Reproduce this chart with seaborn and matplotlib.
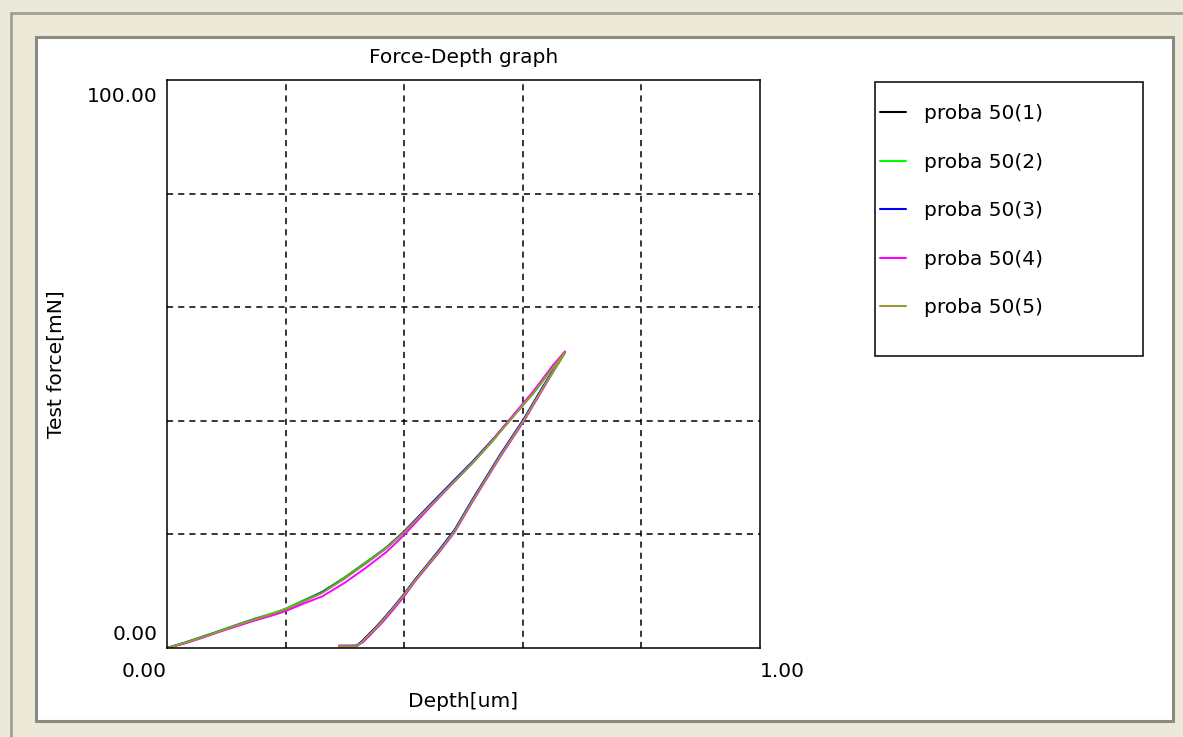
import numpy as np
import pandas as pd
import matplotlib
matplotlib.use('Agg')
import matplotlib.pyplot as plt
from matplotlib.patches import Rectangle
from matplotlib.lines import Line2D
import matplotlib.transforms as mtransforms
import seaborn as sns

##################################################################
sns.set_style('white')
plt.rcParams['font.family'] = ['DejaVu Sans']
plt.rcParams['text.color'] = 'black'
plt.rcParams['axes.labelcolor'] = 'black'
plt.rcParams['xtick.color'] = 'black'
plt.rcParams['ytick.color'] = 'black'
##################################################################
series_names = ['proba 50(1)', 'proba 50(2)', 'proba 50(3)', 'proba 50(4)', 'proba 50(5)']
series_colors = ['#000000', '#00ff00', '#0000ff', '#ff00ff', '#999933']

# loading branch (depth um -> force mN)
depth_load = [0.0, 0.03, 0.06, 0.09, 0.12, 0.15, 0.18, 0.20, 0.23, 0.262, 0.30,
              0.335, 0.37, 0.40, 0.448, 0.48, 0.516, 0.55, 0.575, 0.617, 0.651, 0.671]
load_1 = [0, 0.9, 2.0, 3.0, 4.1, 5.2, 6.1, 6.9, 8.3, 9.9, 12.4, 15.0, 17.7, 20.5, 25.6, 29.0, 32.8, 36.7, 39.8, 44.9, 49.5, 52.0]
load_2 = [0, 1.0, 2.0, 3.1, 4.2, 5.2, 6.2, 6.9, 8.4, 9.9, 12.5, 15.1, 17.7, 20.5, 25.4, 28.8, 32.6, 36.5, 39.9, 44.7, 49.3, 51.9]
load_3 = [0, 0.9, 1.9, 3.0, 4.1, 5.1, 6.0, 6.7, 8.2, 9.8, 12.3, 14.9, 17.6, 20.5, 25.7, 29.1, 32.9, 36.8, 39.7, 44.9, 49.6, 52.1]
load_4 = [0, 0.8, 1.8, 2.9, 3.9, 4.9, 5.8, 6.5, 7.8, 9.1, 11.5, 14.1, 16.9, 19.9, 25.3, 28.8, 32.7, 36.7, 39.9, 45.1, 49.8, 52.2]
load_5 = [0, 0.9, 1.9, 3.0, 4.1, 5.1, 6.1, 6.8, 8.2, 9.7, 12.3, 14.9, 17.6, 20.4, 25.5, 28.9, 32.7, 36.6, 39.7, 44.8, 49.4, 52.0]

# unloading branch
depth_unload = [0.671, 0.635, 0.601, 0.561, 0.516, 0.485, 0.46, 0.437, 0.418, 0.40,
                0.382, 0.364, 0.35, 0.341, 0.33, 0.32, 0.29]
unload_1 = [52.0, 46.1, 40.1, 33.8, 26.2, 20.7, 17.3, 14.4, 12.0, 9.5, 7.2, 5.0, 3.4, 2.5, 1.3, 0.4, 0.3]
unload_2 = [51.9, 45.9, 40.0, 33.6, 26.0, 20.5, 17.1, 14.2, 11.8, 9.3, 7.0, 4.8, 3.2, 2.3, 1.1, 0.3, 0.3]
unload_3 = [52.1, 46.2, 40.2, 33.9, 26.3, 20.8, 17.4, 14.4, 12.0, 9.5, 7.2, 5.0, 3.4, 2.5, 1.3, 0.4, 0.4]
unload_4 = [52.2, 45.8, 39.8, 33.5, 25.9, 20.4, 17.0, 14.1, 11.7, 9.1, 6.8, 4.6, 3.1, 2.1, 1.0, 0.4, 0.4]
unload_5 = [52.0, 46.0, 40.0, 33.7, 26.1, 20.6, 17.2, 14.3, 11.9, 9.4, 7.1, 4.9, 3.3, 2.4, 1.2, 0.3, 0.3]

x_ticks = [0, 1]
x_ticklabels = ['0.00', '1.00']
y_ticks = [0, 100]
y_ticklabels = ['0.00', '100.00']
x_grid = [0.2, 0.4, 0.6, 0.8]
y_grid = [20, 40, 60, 80]
##################################################################
loads = [load_1, load_2, load_3, load_4, load_5]
unloads = [unload_1, unload_2, unload_3, unload_4, unload_5]
rows = []
for name, fl, fu in zip(series_names, loads, unloads):
    d = depth_load + depth_unload
    f = fl + fu
    for i in range(len(d)):
        rows.append({'Sample': name, 'Depth': d[i], 'Force': f[i]})
df = pd.DataFrame(rows)
palette = dict(zip(series_names, series_colors))
##################################################################
W, H = 1183, 737
def fx(x):
    return x / W
def fy(y):
    return 1 - y / H

fz = 14.5
plt.close('all')
fig = plt.figure(figsize=[W / 100, H / 100], dpi=100)
fig.patch.set_facecolor('#ece9d8')

# window frame
fig.add_artist(Rectangle((fx(11), fy(H + 20)), fx(W + 20), (H + 20 - 13) / H, transform=fig.transFigure,
                         facecolor='none', edgecolor='#a09f94', lw=2.0, zorder=-2))
fig.add_artist(Rectangle((fx(36), fy(721)), fx(1173 - 36), (721 - 37) / H, transform=fig.transFigure,
                         facecolor='white', edgecolor='#8c8b82', lw=2.2, zorder=-1))

ax = fig.add_axes([fx(167), fy(648), fx(760 - 167), (648 - 80) / H])
sns.lineplot(data=df, x='Depth', y='Force', hue='Sample', palette=palette, sort=False,
             estimator=None, lw=1.4, ax=ax, legend=False)

ax.set_xlim(0, 1)
ax.set_ylim(0, 100)
ax.set_xticks(x_ticks, x_ticklabels, fontsize=fz)
ax.set_yticks(y_ticks, y_ticklabels, fontsize=fz)
ax.set_xticks(x_grid, minor=True)
ax.set_yticks(y_grid, minor=True)
ax.tick_params(which='both', length=0)
ax.tick_params(axis='x', pad=10)
ax.tick_params(axis='y', pad=7)
ax.grid(which='major', visible=False)
ax.grid(which='minor', color='black', linestyle=(0, (4, 3.3)), linewidth=1.1)
for s in ax.spines.values():
    s.set_color('black')
    s.set_linewidth(1.1)

ax.set_title('Force-Depth graph', fontsize=fz, pad=12)
ax.set_xlabel('Depth[um]', fontsize=fz, labelpad=8)
ax.set_ylabel('Test force[mN]', fontsize=fz, labelpad=15)

fig.canvas.draw()
xl = ax.get_xticklabels()
xl[0].set_ha('right')
xl[1].set_ha('left')
yl = ax.get_yticklabels()
yl[0].set_va('bottom')
yl[1].set_va('top')
yl[0].set_transform(yl[0].get_transform() + mtransforms.ScaledTranslation(0, 4 / 100, fig.dpi_scale_trans))
yl[1].set_transform(yl[1].get_transform() + mtransforms.ScaledTranslation(0, -7 / 100, fig.dpi_scale_trans))

# legend
fig.add_artist(Rectangle((fx(875), fy(356)), fx(1143 - 875), (356 - 82) / H, transform=fig.transFigure,
                         facecolor='white', edgecolor='black', lw=1.1, zorder=1))
handles = [Line2D([], [], color=c, lw=1.5) for c in series_colors]
leg = fig.legend(handles, series_names, loc='upper left', bbox_to_anchor=(fx(880), fy(104)),
                 bbox_transform=fig.transFigure, frameon=False, fontsize=fz, borderpad=0, borderaxespad=0,
                 handlelength=1.3, handletextpad=0.9, labelspacing=1.47)
leg.set_zorder(5)

plt.savefig('out.png', dpi=100, facecolor=fig.get_facecolor())
